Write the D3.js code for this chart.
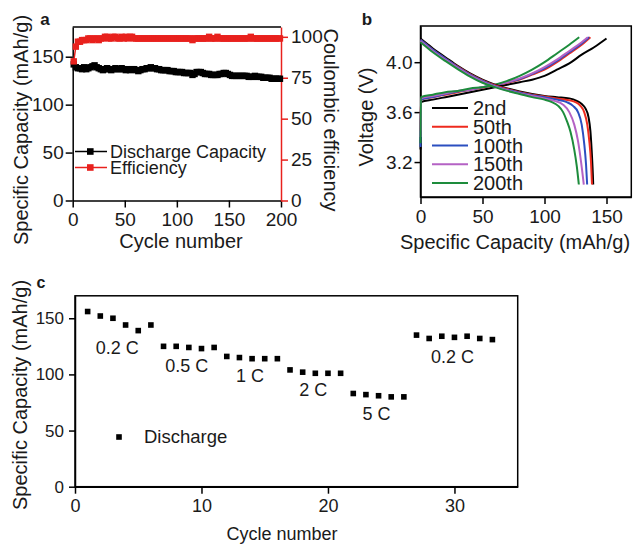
<!DOCTYPE html>
<html lang="en">
<head>
<meta charset="UTF-8">
<script src="https://cdn.jsdelivr.net/npm/d3@7/dist/d3.min.js"></script>
<style>
    body {margin: 0; background: #fff;}
    svg text {font-family: "Liberation Sans", Arial, sans-serif; fill: #1a1a1a;}
    .domain {stroke-width: 1.5px;}
    .tick line {stroke-width: 1.5px;}
</style>
</head>
<body>
<svg id="chart" width="636" height="544"></svg>
<script>
// ---------- panel a : long cycling (every 2nd cycle)
const cyclesA = d3.range(1, 200, 2);
const dischargeCapacity = [
    142, 139, 138, 138, 137, 139, 137, 138, 139, 140,
    141, 139, 138, 137, 136, 137, 138, 137, 136, 137,
    138, 137, 137, 138, 137, 136, 137, 136, 137, 137,
    136, 135, 136, 137, 137, 138, 138, 139, 138, 138,
    137, 137, 136, 136, 136, 136, 135, 135, 135, 134,
    134, 134, 134, 133, 133, 133, 133, 131, 132, 134,
    134, 134, 133, 132, 132, 132, 131, 131, 131, 131,
    132, 132, 133, 133, 132, 131, 130, 130, 130, 130,
    130, 130, 130, 130, 129, 129, 129, 130, 129, 129,
    129, 128, 128, 128, 128, 127, 127, 127, 127, 127];
const efficiency = [
    85, 94, 97, 97, 98, 98, 98, 99, 99, 98,
    99, 99, 98, 99, 99, 100, 100, 99, 99, 100,
    100, 99, 99, 100, 99, 100, 99, 100, 100, 99,
    99, 99, 99, 99, 99, 99, 99, 99, 99, 99,
    99, 99, 99, 99, 99, 99, 99, 99, 99, 99,
    99, 99, 99, 99, 99, 99, 99, 98, 99, 99,
    99, 99, 99, 99, 99, 100, 99, 99, 99, 100,
    99, 99, 99, 99, 99, 99, 99, 99, 99, 99,
    99, 99, 99, 99, 99, 100, 99, 99, 99, 99,
    99, 99, 99, 99, 99, 99, 99, 99, 99, 99];
const seriesA = ['Discharge Capacity', 'Efficiency'];

// ---------- panel b : charge / discharge profiles
const profileLabels = ['2nd', '50th', '100th', '150th', '200th'];
const chargeCap = [
    [0, 0.4, 10, 20, 30, 40, 50, 60, 70, 80, 90, 100, 110, 120, 130, 140, 150],
    [0, 0.4, 10, 20, 30, 40, 50, 60, 70, 80, 90, 100, 110, 120, 130, 137],
    [0, 0.4, 10, 20, 30, 40, 50, 60, 70, 80, 90, 100, 110, 120, 130, 136],
    [0, 0.4, 10, 20, 30, 40, 50, 60, 70, 80, 90, 100, 110, 120, 130, 135],
    [0, 0.4, 10, 20, 30, 40, 50, 60, 70, 80, 90, 100, 110, 120, 128]];
const chargeV = [
    [3.30, 3.68, 3.70, 3.72, 3.74, 3.76, 3.78, 3.80, 3.82, 3.84, 3.86, 3.89, 3.94, 3.99, 4.06, 4.12, 4.19],
    [3.45, 3.70, 3.72, 3.74, 3.76, 3.78, 3.795, 3.815, 3.835, 3.86, 3.90, 3.94, 4.00, 4.07, 4.14, 4.20],
    [3.32, 3.70, 3.72, 3.745, 3.765, 3.78, 3.80, 3.815, 3.84, 3.865, 3.905, 3.95, 4.01, 4.08, 4.15, 4.20],
    [3.40, 3.71, 3.73, 3.75, 3.77, 3.78, 3.80, 3.82, 3.84, 3.87, 3.91, 3.96, 4.02, 4.09, 4.16, 4.20],
    [3.35, 3.72, 3.74, 3.76, 3.77, 3.79, 3.80, 3.82, 3.85, 3.89, 3.94, 4.00, 4.07, 4.14, 4.20]];
const dischargeCap = [
    [0, 5, 10, 20, 30, 40, 50, 60, 70, 80, 90, 100, 110, 120, 126, 130, 133, 135.5, 137, 138, 139, 139.3],
    [0, 5, 10, 20, 30, 40, 50, 60, 70, 80, 90, 100, 110, 120, 125, 129, 132, 134.5, 136, 137.5, 138.3],
    [0, 5, 10, 20, 30, 40, 50, 60, 70, 80, 90, 100, 110, 118, 123, 127, 130, 132, 133.5, 134.4],
    [0, 5, 10, 20, 30, 40, 50, 60, 70, 80, 90, 100, 108, 115, 120, 124, 127, 129.5, 131.7],
    [0, 5, 10, 20, 30, 40, 50, 60, 70, 80, 90, 100, 106, 111, 115, 118, 121, 124, 126, 127.7]];
const dischargeV = [
    [4.19, 4.15, 4.11, 4.04, 3.97, 3.91, 3.86, 3.82, 3.79, 3.765, 3.745, 3.73, 3.72, 3.71, 3.69, 3.665, 3.63, 3.56, 3.45, 3.30, 3.10, 3.02],
    [4.18, 4.14, 4.10, 4.03, 3.965, 3.905, 3.855, 3.815, 3.785, 3.76, 3.74, 3.725, 3.71, 3.695, 3.68, 3.65, 3.60, 3.50, 3.38, 3.20, 3.02],
    [4.18, 4.14, 4.10, 4.03, 3.96, 3.90, 3.85, 3.81, 3.78, 3.755, 3.735, 3.72, 3.70, 3.68, 3.65, 3.60, 3.50, 3.35, 3.18, 3.02],
    [4.17, 4.13, 4.09, 4.02, 3.955, 3.895, 3.845, 3.805, 3.775, 3.75, 3.73, 3.71, 3.69, 3.66, 3.60, 3.50, 3.37, 3.20, 3.02],
    [4.16, 4.12, 4.08, 4.01, 3.945, 3.885, 3.835, 3.80, 3.77, 3.745, 3.72, 3.70, 3.68, 3.65, 3.60, 3.53, 3.44, 3.30, 3.17, 3.02]];

// ---------- panel c : rate capability
const rateLabels = ['0.2 C', '0.5 C', '1 C', '2 C', '5 C', '0.2 C'];
const rateCapacity = [
    [156, 152, 150, 144, 139, 144],
    [125, 125, 124, 123, 124],
    [116, 115, 114, 114, 114],
    [104, 102, 101, 101, 101],
    [83, 82, 81, 80, 80],
    [135, 132, 134, 133, 134, 132, 131]];

const red = '#e8211d';
const profileColors = ['#000000', '#ee2a1e', '#2b4fc0', '#b462c4', '#1d8c3c'];

const svg = d3.select('#chart');

function styleAxis(g, color, fontSize) {
    g.selectAll('.domain').attr('stroke', color);
    g.selectAll('.tick line').attr('stroke', color);
    g.selectAll('.tick text').attr('fill', color).style('font-size', fontSize + 'px');
}

// major ticks with labels + minor ticks without
function addAxis(axisFn, scale, pos, major, minor, fmt, opts) {
    let g = svg.append('g').attr('transform', pos);
    g.call(axisFn(scale).tickValues(minor).tickSize(opts.minor).tickFormat(''));
    g.call(axisFn(scale).tickValues(major).tickSizeInner(opts.major).tickSizeOuter(0)
        .tickPadding(opts.pad).tickFormat(fmt));
    styleAxis(g, opts.color || '#000', opts.font);
    return g;
}

function frame(x0, y0, x1, y1) {
    svg.append('rect').attr('x', x0).attr('y', y0).attr('width', x1 - x0).attr('height', y1 - y0)
        .attr('fill', 'none').attr('stroke', '#000').attr('stroke-width', 1.5);
}

function label(text, x, y, size, rot, weight) {
    return svg.append('text').attr('transform', `translate(${x},${y}) rotate(${rot || 0})`)
        .attr('text-anchor', 'middle').style('font-size', size + 'px')
        .style('font-weight', weight || 'normal').text(text);
}

// ================= panel a
const ax = d3.scaleLinear().domain([0, 200]).range([72.7, 281]);
const ayL = d3.scaleLinear().domain([0, 181]).range([200.5, 27]);
const ayR = d3.scaleLinear().domain([0, 106]).range([200.5, 27]);

svg.append('line').attr('x1', ax(0)).attr('x2', ax(200)).attr('y1', 27).attr('y2', 27)
    .attr('stroke', '#000').attr('stroke-width', 1.5);

addAxis(d3.axisBottom, ax, 'translate(0,200.5)', [0, 50, 100, 150, 200], [25, 75, 125, 175], d3.format('d'),
    {major: 7, minor: 4, pad: 5, font: 19});
addAxis(d3.axisLeft, ayL, `translate(${ax(0)},0)`, [0, 50, 100, 150], [25, 75, 125, 175], d3.format('d'),
    {major: 7, minor: 4, pad: 2, font: 19});
addAxis(d3.axisRight, ayR, `translate(${ax(200)},0)`, [0, 25, 50, 75, 100], [12.5, 37.5, 62.5, 87.5], d3.format('d'),
    {major: 7, minor: 4, pad: 3, font: 19, color: red});

const capLine = d3.line().x((d, i) => ax(cyclesA[i])).y(d => ayL(d));
const effLine = d3.line().x((d, i) => ax(cyclesA[i])).y(d => ayR(d));
svg.append('path').attr('d', capLine(dischargeCapacity)).attr('fill', 'none').attr('stroke', '#000').attr('stroke-width', 1.5);
svg.append('path').attr('d', effLine(efficiency)).attr('fill', 'none').attr('stroke', red).attr('stroke-width', 1.5);
svg.append('g').selectAll('rect').data(dischargeCapacity).join('rect')
    .attr('x', (d, i) => ax(cyclesA[i]) - 3.2).attr('y', d => ayL(d) - 3.2)
    .attr('width', 6.4).attr('height', 6.4).attr('fill', '#000');
svg.append('g').selectAll('rect').data(efficiency).join('rect')
    .attr('x', (d, i) => ax(cyclesA[i]) - 3.2).attr('y', d => ayR(d) - 3.2)
    .attr('width', 6.4).attr('height', 6.4).attr('fill', red);

// legend a
seriesA.forEach((s, i) => {
    let y = 151.5 + i * 16, c = i === 0 ? '#000' : red;
    svg.append('line').attr('x1', 75).attr('x2', 107).attr('y1', y).attr('y2', y).attr('stroke', c).attr('stroke-width', 1.5);
    svg.append('rect').attr('x', 87).attr('y', y - 3.3).attr('width', 6.6).attr('height', 6.6).attr('fill', c);
    svg.append('text').attr('x', 110).attr('y', y + 6.5).style('font-size', '18px').text(s);
});

label('a', 45, 25, 17, 0, 'bold');
label('Specific Capacity (mAh/g)', 28, 130, 20, -90);
label('Cycle number', 181, 248, 20);
label('Coulombic efficiency', 324, 120, 20, 90);

// ================= panel b
const bx = d3.scaleLinear().domain([0, 170]).range([420.5, 631.3]);
const by = d3.scaleLinear().domain([2.92, 4.29]).range([197, 26]);

addAxis(d3.axisBottom, bx, 'translate(0,197)', [0, 50, 100, 150], [25, 75, 125], d3.format('d'),
    {major: 7, minor: 4, pad: 6, font: 19});
addAxis(d3.axisLeft, by, `translate(${bx(0)},0)`, [3.2, 3.6, 4.0], [3.0, 3.4, 3.8, 4.2], d3.format('.1f'),
    {major: 6, minor: 6, pad: 2, font: 19});
frame(bx(0), 26, bx(170), 197);

const profLine = d3.line().curve(d3.curveMonotoneX);
profileLabels.forEach((p, k) => {
    svg.append('path').attr('d', profLine(chargeCap[k].map((c, i) => [bx(c), by(chargeV[k][i])])))
        .attr('fill', 'none').attr('stroke', profileColors[k]).attr('stroke-width', 2);
});
profileLabels.forEach((p, k) => {
    svg.append('path').attr('d', profLine(dischargeCap[k].map((c, i) => [bx(c), by(dischargeV[k][i])])))
        .attr('fill', 'none').attr('stroke', profileColors[k]).attr('stroke-width', 2);
});

// legend b
profileLabels.forEach((p, k) => {
    let y = 108 + k * 18.75;
    svg.append('line').attr('x1', 432).attr('x2', 468).attr('y1', y).attr('y2', y)
        .attr('stroke', profileColors[k]).attr('stroke-width', 2.2);
    svg.append('text').attr('x', 473).attr('y', y + 7).style('font-size', '20px').text(p);
});

label('b', 367, 25, 17, 0, 'bold');
label('Voltage (V)', 373, 117, 20, -90);
label('Specific Capacity (mAh/g)', 515, 249, 20);

// ================= panel c
const cx = d3.scaleLinear().domain([0, 35]).range([75, 517.7]);
const cy = d3.scaleLinear().domain([0, 170]).range([486.7, 295.8]);

addAxis(d3.axisBottom, cx, 'translate(0,486.7)', [0, 10, 20, 30], [5, 15, 25, 35], d3.format('d'),
    {major: 7, minor: 5, pad: 6, font: 18});
addAxis(d3.axisLeft, cy, `translate(${cx(0)},0)`, [0, 50, 100, 150], [25, 75, 125], d3.format('d'),
    {major: 6, minor: 4, pad: 5, font: 17});
frame(cx(0), 295.8, cx(35), 486.7);

let cycle = 1;
rateCapacity.forEach((grp, g) => {
    let first = cycle;
    svg.append('g').selectAll('rect').data(grp).join('rect')
        .attr('x', (d, i) => cx(first + i) - 2.8).attr('y', d => cy(d) - 2.8)
        .attr('width', 5.6).attr('height', 5.6).attr('fill', '#000');
    cycle += grp.length;
    let mid = (first + cycle - 1) / 2;
    svg.append('text').attr('x', cx(mid) - 2).attr('y', cy(d3.min(grp)) + 23)
        .attr('text-anchor', 'middle').style('font-size', '18px').text(rateLabels[g]);
});

svg.append('rect').attr('x', 116.2).attr('y', 434.2).attr('width', 5.6).attr('height', 5.6).attr('fill', '#000');
svg.append('text').attr('x', 144).attr('y', 443).style('font-size', '18.5px').text('Discharge');

label('c', 41, 288, 16, 0, 'bold');
label('Specific Capacity (mAh/g)', 27, 395, 20, -90);
label('Cycle number', 282, 540, 18);
</script>
</body>
</html>
